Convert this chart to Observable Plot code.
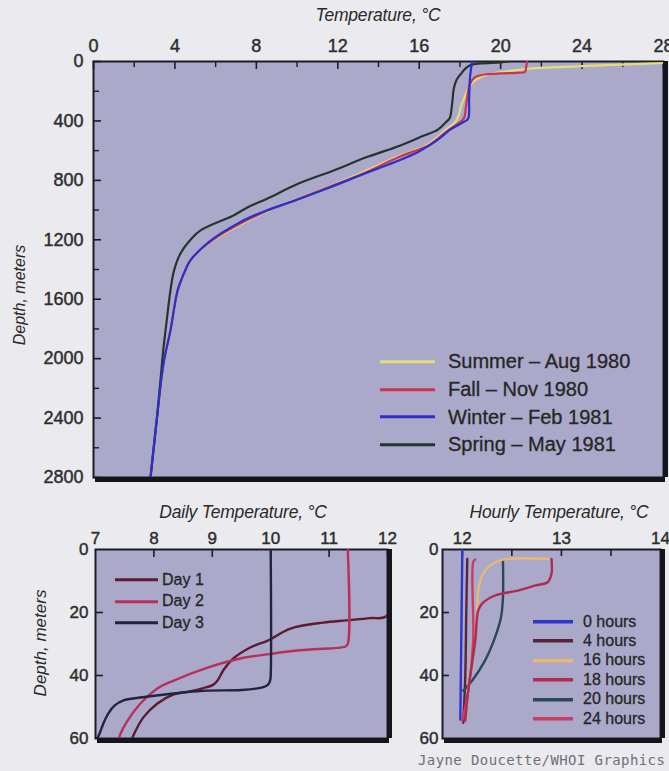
<!DOCTYPE html>
<html><head><meta charset="utf-8">
<script src="https://cdn.jsdelivr.net/npm/d3@7"></script>
<script src="https://cdn.jsdelivr.net/npm/@observablehq/plot@0.6"></script>
<style>
body{margin:0;background:#eaeaef;}
#wrap{position:relative;width:669px;height:771px;overflow:hidden;font-family:"Liberation Sans",Arial,sans-serif;color:#2a2a2a;background:#eaeaef;}
.title{font-style:italic;font-size:17.5px;white-space:nowrap;color:#2a2a2a;letter-spacing:-0.2px;}
.vtitle{font-style:italic;font-size:16px;white-space:nowrap;transform:translate(-50%,-50%) rotate(-90deg);color:#2a2a2a;}
.leg{position:absolute;white-space:nowrap;}
.leg div{display:flex;align-items:center;}
.leg span{-webkit-text-stroke:0.3px #262626;}
.credit{font-family:"DejaVu Sans Mono",monospace;font-size:14px;letter-spacing:0.4px;color:#707078;white-space:nowrap;}
</style></head>
<body><div id="wrap"></div>
<script>
// ---------- Top panel data: [depth (m), temperature (°C)] ----------
const seasonNames = ["Summer – Aug 1980","Fall – Nov 1980","Winter – Feb 1981","Spring – May 1981"];
const seasonColors = ["#e5dc78","#cc3450","#2c2fcc","#26342f"];
const summer = [[10,28.0],[20,26.2],[30,24.3],[40,22.5],[48,21.4],[55,21.0],[65,20.4],[81,19.6],[100,19.1],[130,18.7],[182,18.4],[250,18.2],[300,18.05],[360,17.95],[410,17.75],[460,17.3],[520,16.8],[565,16.35],[640,14.95],[750,13.15],[848,11.45],[930,9.9],[1003,8.6],[1060,7.75],[1117,6.95],[1180,6.15],[1252,5.4],[1339,4.78],[1440,4.4],[1541,4.13],[1810,3.78],[2032,3.44],[2369,3.14],[2800,2.8]];
const fall = [[0,21.3],[40,21.25],[70,21.2],[76,20.8],[80,20.0],[86,19.3],[95,18.95],[110,18.7],[150,18.5],[200,18.4],[300,18.3],[380,18.2],[410,18.0],[460,17.45],[520,16.9],[565,16.45],[640,15.05],[750,13.3],[848,11.5],[930,9.95],[1003,8.55],[1060,7.65],[1117,6.85],[1180,6.08],[1252,5.38],[1339,4.76],[1440,4.4],[1541,4.13],[1810,3.78],[2032,3.44],[2369,3.14],[2800,2.8]];
const winter = [[0,18.6],[100,18.5],[250,18.45],[385,18.4],[410,18.15],[460,17.5],[518,17.0],[565,16.5],[612,15.9],[666,15.0],[750,13.4],[848,11.6],[930,10.0],[1003,8.5],[1060,7.5],[1117,6.75],[1180,6.0],[1252,5.35],[1339,4.76],[1440,4.4],[1541,4.13],[1810,3.78],[2032,3.44],[2369,3.14],[2800,2.8]];
const spring = [[0,20.4],[6,20.0],[13,19.0],[25,18.5],[50,18.25],[75,18.1],[120,17.85],[182,17.7],[280,17.62],[380,17.5],[410,17.3],[460,16.9],[500,16.2],[565,15.08],[640,13.5],[733,11.8],[820,10.1],[922,8.55],[980,7.6],[1036,6.88],[1137,5.26],[1210,4.7],[1292,4.27],[1410,3.95],[1541,3.78],[1810,3.54],[1925,3.44],[2100,3.32],[2369,3.14],[2800,2.8]];
const tempTicks = [0,4,8,12,16,20,24,28];
const tempMinorTicks = [2,6,10,14,18,22,26];
const depthTicks = [0,400,800,1200,1600,2000,2400,2800];
const depthMinorTicks = [200,600,1000,1400,1800,2200,2600];

// ---------- Bottom-left (daily) data: [depth (m), temperature (°C)] ----------
const dayNames = ["Day 1","Day 2","Day 3"];
const dayColors = ["#5e1a32","#b8305a","#1f2440"];
const day1 = [[0,12],[21,11.99],[21.8,11.7],[22.5,11.3],[23.2,10.9],[25.1,10.34],[28.9,9.95],[31.1,9.65],[34.6,9.36],[38,9.2],[41.6,9.09],[42.9,9.02],[44,8.85],[45,8.63],[46,8.34],[48.9,8.06],[53.3,7.82],[59,7.65],[60,7.63]];
const day2 = [[0,11.32],[30,11.32],[30.8,11.28],[31.3,11.1],[31.5,10.9],[32,10.5],[33,10.05],[34.6,9.48],[37.5,8.92],[41.6,8.34],[44.1,8.06],[48.9,7.77],[54.3,7.55],[58.4,7.43],[60,7.4]];
const day3 = [[0,10],[40,10],[41.6,9.99],[43,9.95],[43.8,9.86],[44.6,9.5],[44.8,8.9],[45.7,8.34],[47,7.77],[47.9,7.48],[49.5,7.33],[52,7.22],[55,7.14],[58.4,7.07],[60,7.03]];
const dailyTicks = [7,8,9,10,11,12];
const dailyInnerTicks = [8,9,10,11];
const shallowTicks = [0,20,40,60];
const shallowInnerTicks = [20,40];

// ---------- Bottom-right (hourly) data: [depth (m), temperature (°C)] ----------
const hourNames = ["0 hours","4 hours","16 hours","18 hours","20 hours","24 hours"];
const hourColors = ["#2a36cc","#5a2438","#eab872","#b02a52","#2a4858","#cc3c62"];
const h0 = [[0,12.0],[54,11.98]];
const h4 = [[3,12.05],[20,12.04],[40,12.03],[55,12.01]];
const h16 = [[3,12.87],[3.2,12.41],[5.1,12.28],[7.7,12.21],[13,12.16],[19.4,12.15],[29,12.11],[44.8,12.06]];
const h18 = [[3,12.9],[7.7,12.9],[10.4,12.86],[11.4,12.74],[13,12.57],[14.6,12.33],[17.2,12.2],[19.4,12.16],[29,12.13],[44.8,12.06],[54.3,12.03]];
const h20 = [[3.5,12.41],[15.2,12.41],[21.6,12.39],[27.9,12.33],[35.2,12.23],[41.6,12.1],[44.8,12.01]];
const h24 = [[3.2,12.13],[4,12.11],[29,12.11],[44.8,12.06],[54.3,12.0]];
const hourlyTicks = [12,13,14];
const hourlyInnerTicks = [12,12.5,13,13.5];

// ---------- helpers ----------
const toRows = (series, names) => series.flatMap((s, i) => s.map(([d, t]) => ({depth: d, temp: t, series: names[i]})));
const BG = "#aaa9c9", EDGE = "#1c1c26", SHADOW = "#15151c", TXT = "#2e2e2e";
const wrap = document.getElementById("wrap");
function place(node, left, topPx) { node.style.position = "absolute"; node.style.left = left + "px"; node.style.top = topPx + "px"; wrap.appendChild(node); }

function panel({width, height, mt, mr, mb, ml, xDomain, yDomain, xTicks, xInner, yTicks, yInner, rows, names, colors, fontSize, xPad, yPad, sw, tickLen, minorLen, xMinor, yMinor}) {
  const iw = width - ml - mr, ih = height - mt - mb;
  const txt = {fontSize, fill: TXT, textStroke: TXT, textStrokeWidth: 0.45, tickFormat: d => `${d}`, label: null, tickSize: 0};
  const marks = [
    Plot.frame({fill: BG, stroke: EDGE, strokeWidth: 2}),
    Plot.axisX(xTicks, {anchor: "top", tickPadding: xPad, ...txt}),
    Plot.axisY(yTicks, {anchor: "left", tickPadding: yPad, ...txt}),
    Plot.tickX(xInner, {x: d => d, insetBottom: ih - tickLen, stroke: EDGE, strokeWidth: 1.6}),
    Plot.tickY(yInner, {y: d => d, insetRight: iw - tickLen, stroke: EDGE, strokeWidth: 1.6}),
  ];
  if (xMinor) marks.push(Plot.tickX(xMinor, {x: d => d, insetBottom: ih - minorLen, stroke: EDGE, strokeWidth: 1.4}));
  if (yMinor) marks.push(Plot.tickY(yMinor, {y: d => d, insetRight: iw - minorLen, stroke: EDGE, strokeWidth: 1.4}));
  marks.push(
    Plot.line(rows, {x: "temp", y: "depth", z: "series", stroke: "series", strokeWidth: sw, curve: "catmull-rom", clip: true}),
    Plot.ruleX([xDomain[1]], {stroke: SHADOW, strokeWidth: 5, dx: 2}),
    Plot.ruleY([yDomain[1]], {stroke: SHADOW, strokeWidth: 5, dy: 2, dx: 2})
  );
  return Plot.plot({
    width, height, marginTop: mt, marginRight: mr, marginBottom: mb, marginLeft: ml,
    style: {background: "transparent", fontFamily: "Liberation Sans, Arial, sans-serif"},
    x: {domain: xDomain, axis: null},
    y: {domain: yDomain, reverse: true, axis: null},
    color: {domain: names, range: colors},
    marks
  });
}

// Top panel
const topPlot = panel({width: 669, height: 490, mt: 61, mr: 6, mb: 13, ml: 93, xDomain: [0, 28], yDomain: [0, 2800],
  xTicks: tempTicks, xInner: tempTicks, xMinor: tempMinorTicks, yTicks: depthTicks, yInner: depthTicks, yMinor: depthMinorTicks,
  rows: toRows([summer, fall, spring, winter], [seasonNames[0], seasonNames[1], seasonNames[3], seasonNames[2]]),
  names: seasonNames, colors: seasonColors, fontSize: 18, xPad: 10, yPad: 10, sw: 2.2, tickLen: 8, minorLen: 6});
place(topPlot, 0, 0);

// Bottom-left panel
const dailyPlot = panel({width: 400, height: 250, mt: 49, mr: 13, mb: 12, ml: 95, xDomain: [7, 12], yDomain: [0, 60],
  xTicks: dailyTicks, xInner: dailyInnerTicks, yTicks: shallowTicks, yInner: shallowInnerTicks,
  rows: toRows([day1, day2, day3], dayNames), names: dayNames, colors: dayColors, fontSize: 17, xPad: 6, yPad: 7, sw: 2.4, tickLen: 8});
place(dailyPlot, 0, 500);

// Bottom-right panel
const hourlyPlot = panel({width: 269, height: 250, mt: 49, mr: 9, mb: 12, ml: 42, xDomain: [11.8, 14], yDomain: [0, 60],
  xTicks: hourlyTicks, xInner: hourlyInnerTicks, yTicks: shallowTicks, yInner: shallowInnerTicks,
  rows: toRows([h0, h4, h20, h16, h24, h18], [hourNames[0], hourNames[1], hourNames[4], hourNames[2], hourNames[5], hourNames[3]]),
  names: hourNames, colors: hourColors, fontSize: 17, xPad: 6, yPad: 4, sw: 2.4, tickLen: 7});
place(hourlyPlot, 400, 500);

// Titles
function text(cls, str, left, topPx) {
  const d = document.createElement("div"); d.className = cls; d.textContent = str;
  place(d, left, topPx); return d;
}
const t1 = text("title", "Temperature, °C", 378, 5); t1.style.transform = "translateX(-50%)";
const t2 = text("title", "Daily Temperature, °C", 243, 502); t2.style.transform = "translateX(-50%)";
const t3 = text("title", "Hourly Temperature, °C", 559, 502); t3.style.transform = "translateX(-50%)";
text("vtitle", "Depth, meters", 20, 295);
const v2 = text("vtitle", "Depth, meters", 41, 643); v2.style.fontSize = "17px";
text("credit", "Jayne Doucette/WHOI Graphics", 418, 752);

// Legends
function legend(names, colors, left, topPx, rowH, lineW, gap, fontSize, sw) {
  const box = document.createElement("div"); box.className = "leg";
  names.forEach((n, i) => {
    const row = document.createElement("div");
    row.style.height = rowH + "px"; row.style.fontSize = fontSize + "px"; row.style.color = "#262626";
    row.innerHTML = `<svg width="${lineW}" height="${rowH}" style="margin-right:${gap}px"><line x1="0" x2="${lineW}" y1="${rowH/2}" y2="${rowH/2}" stroke="${colors[i]}" stroke-width="${sw}"/></svg><span>${n}</span>`;
    box.appendChild(row);
  });
  place(box, left, topPx);
}
legend(seasonNames, seasonColors, 380, 348, 27.7, 55, 13, 20, 3);
legend(dayNames, dayColors, 115, 569, 21.5, 43, 4, 16, 3);
legend(hourNames, hourColors, 533, 612, 19.4, 40, 10, 16, 3.6);
</script></body></html>
